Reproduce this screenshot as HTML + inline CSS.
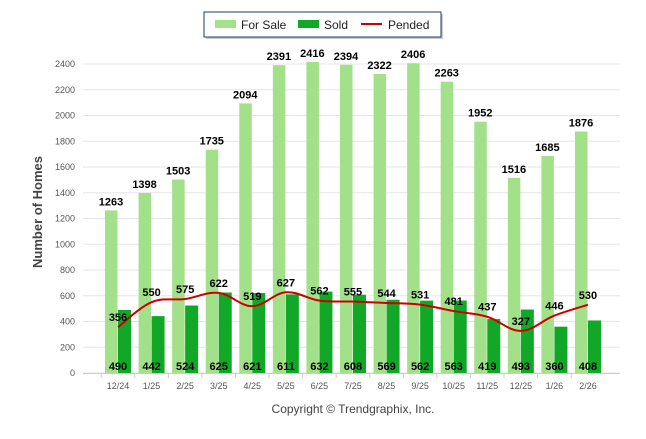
<!DOCTYPE html>
<html><head><meta charset="utf-8"><style>
body{margin:0;background:#fff;}
svg text{font-family:"Liberation Sans",sans-serif;}
</style></head><body>
<svg width="646" height="434" viewBox="0 0 646 434" id="c">
<g>
<rect x="206" y="14" width="237" height="25" fill="#999" opacity="0.5"/>
<rect x="204" y="12" width="237" height="25" fill="#fff" stroke="#1f3864" stroke-width="1"/>
<rect x="215" y="20" width="21" height="8" fill="#a3e08a"/>
<text x="241" y="29" font-size="12" fill="#222">For Sale</text>
<rect x="298" y="20" width="21" height="8" fill="#11a827"/>
<text x="324" y="29" font-size="12" fill="#222">Sold</text>
<line x1="361" y1="24" x2="382" y2="24" stroke="#c00" stroke-width="2"/>
<text x="388" y="29" font-size="12" fill="#222">Pended</text>
</g>
<text transform="translate(42,212) rotate(-90)" text-anchor="middle" font-size="13" font-weight="bold" fill="#444">Number of Homes</text>
<text x="353" y="413" text-anchor="middle" font-size="12" fill="#444">Copyright © Trendgraphix, Inc.</text>
<g id="grid"></g><g id="bars"></g><g id="line"></g><g id="labels"></g>
</svg>
<script>
const categories=["12/24","1/25","2/25","3/25","4/25","5/25","6/25","7/25","8/25","9/25","10/25","11/25","12/25","1/26","2/26"];
const forSale=[1263,1398,1503,1735,2094,2391,2416,2394,2322,2406,2263,1952,1516,1685,1876];
const sold=[490,442,524,625,621,611,632,608,569,562,563,419,493,360,408];
const pended=[356,550,575,622,519,627,562,555,544,531,481,437,327,446,530];
const yTicks=[0,200,400,600,800,1000,1200,1400,1600,1800,2000,2200,2400];
const NS="http://www.w3.org/2000/svg";
const y=v=>373-v*0.12875;
const x=i=>118+i*33.57;
function mk(t,a,p){const e=document.createElementNS(NS,t);for(const k in a)e.setAttribute(k,a[k]);p.appendChild(e);return e;}
const grid=document.getElementById('grid'),bars=document.getElementById('bars'),line=document.getElementById('line'),labels=document.getElementById('labels');
yTicks.forEach(v=>{
 const l=mk('line',{x1:83,x2:620,y1:y(v),y2:y(v),stroke:'#e6e6e6','stroke-width':1},grid);
 
 
 const t=mk('text',{x:75,y:y(v)+3,'text-anchor':'end','font-size':9,fill:'#555'},grid);
 t.textContent=v;
 
 
});
mk('line',{x1:83,x2:620,y1:373.5,y2:373.5,stroke:'#ccc'},grid);
categories.forEach((c,i)=>{
 const t=mk('text',{x:x(i),y:389,'text-anchor':'middle','font-size':9,fill:'#555'},grid);
 t.textContent=c;
 
 
 const tk=mk('line',{x1:x(i)-16.8,x2:x(i)-16.8,y1:373,y2:378,stroke:'#ccc'},grid);
 
 
 const b1=mk('rect',{x:x(i)-13,y:y(forSale[i]),width:12.5,height:373-y(forSale[i]),fill:'#a3e08a'},bars);
 
 
 const b2=mk('rect',{x:x(i),y:y(sold[i]),width:13,height:373-y(sold[i]),fill:'#11a827'},bars);
 
 
 const l1=mk('text',{x:x(i)-7,y:y(forSale[i])-5,'text-anchor':'middle','font-size':11,'font-weight':'bold',fill:'#000'},labels);
 l1.textContent=forSale[i];
 
 
 const l2=mk('text',{x:x(i),y:370,'text-anchor':'middle','font-size':11,'font-weight':'bold',fill:'#000'},labels);
 l2.textContent=sold[i];
 
 
 const l3=mk('text',{x:x(i),y:y(pended[i])-6,'text-anchor':'middle','font-size':11,'font-weight':'bold',fill:'#000'},labels);
 l3.textContent=pended[i];
 
 
});
const pts=pended.map((v,i)=>[x(i),y(v)]);
let d='M'+pts[0][0]+','+pts[0][1];
for(let i=0;i<pts.length-1;i++){
 const p0=pts[Math.max(i-1,0)],p1=pts[i],p2=pts[i+1],p3=pts[Math.min(i+2,pts.length-1)];
 const k=0.18;
 d+=` C${p1[0]+(p2[0]-p0[0])*k},${p1[1]+(p2[1]-p0[1])*k} ${p2[0]-(p3[0]-p1[0])*k},${p2[1]-(p3[1]-p1[1])*k} ${p2[0]},${p2[1]}`;
}
const pl=mk('path',{d:d,fill:'none',stroke:'#c00','stroke-width':2},line);


</script>
</body></html>
